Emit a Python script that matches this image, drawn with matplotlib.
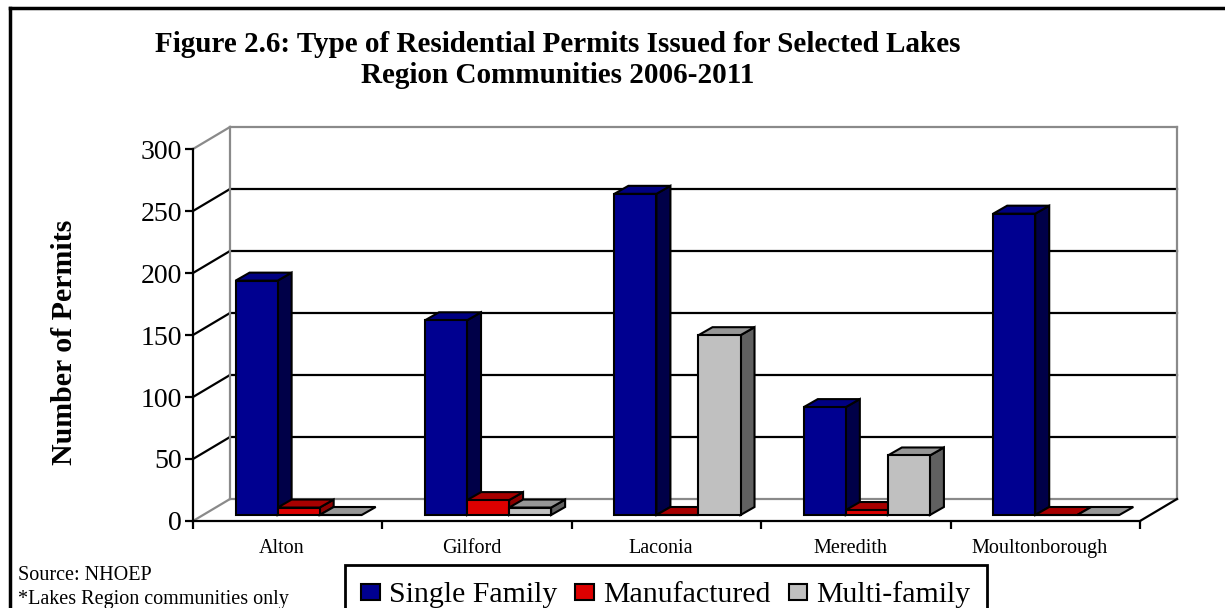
import matplotlib
matplotlib.use("Agg")
import matplotlib.pyplot as plt
import matplotlib.transforms as mtransforms
from matplotlib.patches import Polygon, Patch
from matplotlib.lines import Line2D

# ---- data ----
communities = ["Alton", "Gilford", "Laconia", "Meredith", "Moultonborough"]
series_names = ["Single Family", "Manufactured", "Multi-family"]
single_family = [189, 157, 259, 87, 243]
manufactured = [6, 12, 0, 4, 0]
multi_family = [0, 6, 145, 48, 0]
y_ticks = [0, 50, 100, 150, 200, 250, 300]

title_lines = ["Figure 2.6: Type of Residential Permits Issued for Selected Lakes",
               "Region Communities 2006-2011"]
source_lines = ["Source: NHOEP", "*Lakes Region communities only"]

# ---- styles ----
FRONT = ["#000090", "#DD0000", "#C0C0C0"]
TOP = ["#000082", "#A80000", "#969696"]
SIDE = ["#000048", "#8C0000", "#606060"]
GREY = "#8a8a8a"
FONT = "Liberation Serif"

# pseudo-3d geometry (category units on x, permits on y)
PX_X = 189.4          # px per category
PX_Y = 1.24           # px per permit
WALL_DX = 37 / PX_X   # depth of the floor
WALL_DY = 22 / PX_Y
BAR_DX = 10 / PX_X    # bars stand part way back on the floor
BAR_DY = 6 / PX_Y
BAR_DEPTH_DX = 14 / PX_X
BAR_DEPTH_DY = 8 / PX_Y
BAR_W = 0.222
BAR_X0 = 0.172

W, H = 1225, 608
fig = plt.figure(figsize=(W / 100, H / 100), dpi=100)
ymax = y_ticks[-1]
n = len(communities)
ax_w = PX_X * (n + WALL_DX)
ax_h = PX_Y * (ymax + WALL_DY)
ax = fig.add_axes([193 / W, (H - 521) / H, ax_w / W, ax_h / H])
ax.set_xlim(0, n + WALL_DX)
ax.set_ylim(0, ymax + WALL_DY)
ax.patch.set_visible(False)

# walls and gridlines
for v in y_ticks:
    c = GREY if v in (0, ymax) else "black"
    ax.plot([0, WALL_DX], [v, v + WALL_DY], color=c, lw=1.6, zorder=1, clip_on=False)
    ax.plot([WALL_DX, n + WALL_DX], [v + WALL_DY, v + WALL_DY], color=c, lw=1.6,
            zorder=1, clip_on=False)
ax.plot([WALL_DX, WALL_DX], [WALL_DY, ymax + WALL_DY], color=GREY, lw=1.6, zorder=1, clip_on=False)
ax.plot([n + WALL_DX, n + WALL_DX], [WALL_DY, ymax + WALL_DY], color=GREY, lw=1.6,
        zorder=1, clip_on=False)
ax.plot([n, n + WALL_DX], [0, WALL_DY], color="black", lw=1.6, zorder=1, clip_on=False)

# bars
values = [single_family, manufactured, multi_family]
z = 2
for i in range(n):
    for j, vals in enumerate(values):
        v = vals[i]
        x0 = i + BAR_X0 + j * BAR_W + BAR_DX
        y0 = BAR_DY
        if v > 0:
            side = Polygon([(x0 + BAR_W, y0), (x0 + BAR_W + BAR_DEPTH_DX, y0 + BAR_DEPTH_DY),
                            (x0 + BAR_W + BAR_DEPTH_DX, y0 + v + BAR_DEPTH_DY), (x0 + BAR_W, y0 + v)],
                           closed=True, facecolor=SIDE[j], edgecolor="black", lw=1.5, zorder=z)
            ax.add_patch(side)
        top = Polygon([(x0, y0 + v), (x0 + BAR_DEPTH_DX, y0 + v + BAR_DEPTH_DY),
                       (x0 + BAR_W + BAR_DEPTH_DX, y0 + v + BAR_DEPTH_DY), (x0 + BAR_W, y0 + v)],
                      closed=True, facecolor=TOP[j], edgecolor="black", lw=1.5, zorder=z)
        ax.add_patch(top)
        ax.bar(x0, v, width=BAR_W, bottom=y0, align="edge", color=FRONT[j],
               edgecolor="black", lw=1.5, zorder=z + 0.5)
        z += 1

# axes
for s in ["top", "right"]:
    ax.spines[s].set_visible(False)
ax.spines["left"].set_bounds(0, ymax)
ax.spines["bottom"].set_bounds(0, n)
for s in ["left", "bottom"]:
    ax.spines[s].set_linewidth(1.6)
    ax.spines[s].set_zorder(50)
ax.set_yticks(y_ticks)
ax.set_yticklabels([str(t) for t in y_ticks], fontfamily=FONT, fontsize=20)
ax.set_xticks(range(n + 1))
ax.set_xticklabels([])
ax.tick_params(axis="both", direction="out", length=6, width=1.6, color="black", pad=2)

lab_tr = mtransforms.blended_transform_factory(ax.transData, ax.transAxes)
for i, name in enumerate(communities):
    ax.text(i + 0.47, -32 / ax_h, name, transform=lab_tr, ha="center", va="baseline",
            fontfamily=FONT, fontsize=14.5)

# titles and labels
fig.text(558 / W, 1 - 52 / H, title_lines[0], ha="center", va="baseline",
         fontfamily=FONT, fontweight="bold", fontsize=21)
fig.text(558 / W, 1 - 83 / H, title_lines[1], ha="center", va="baseline",
         fontfamily=FONT, fontweight="bold", fontsize=21)
fig.text(65 / W, 1 - 342 / H, "Number of Permits", rotation=90, ha="center", va="center",
         fontfamily=FONT, fontweight="bold", fontsize=21.5)
fig.text(18 / W, 1 - 580 / H, source_lines[0], ha="left", va="baseline",
         fontfamily=FONT, fontsize=14.5)
fig.text(18 / W, 1 - 604 / H, source_lines[1], ha="left", va="baseline",
         fontfamily=FONT, fontsize=14.5)

# legend
handles = [Patch(facecolor=FRONT[j], edgecolor="black", lw=1.5) for j in range(3)]
leg = fig.legend(handles, series_names, loc="upper left", bbox_to_anchor=(345 / W, 1 - 565 / H),
                 ncol=3, frameon=True, fancybox=False, framealpha=1, edgecolor="black",
                 borderpad=0.55, borderaxespad=0, handlelength=0.63, handleheight=0.47,
                 handletextpad=0.3, columnspacing=0.6, prop={"family": FONT, "size": 21.5})
leg.get_frame().set_linewidth(2)

# outer border
fig.add_artist(Line2D([10 / W, 1], [1 - 8 / H, 1 - 8 / H], transform=fig.transFigure,
                      color="black", lw=2.5))
fig.add_artist(Line2D([10 / W, 10 / W], [0, 1 - 8 / H], transform=fig.transFigure,
                      color="black", lw=2.5))

fig.savefig("out.png", dpi=100)
